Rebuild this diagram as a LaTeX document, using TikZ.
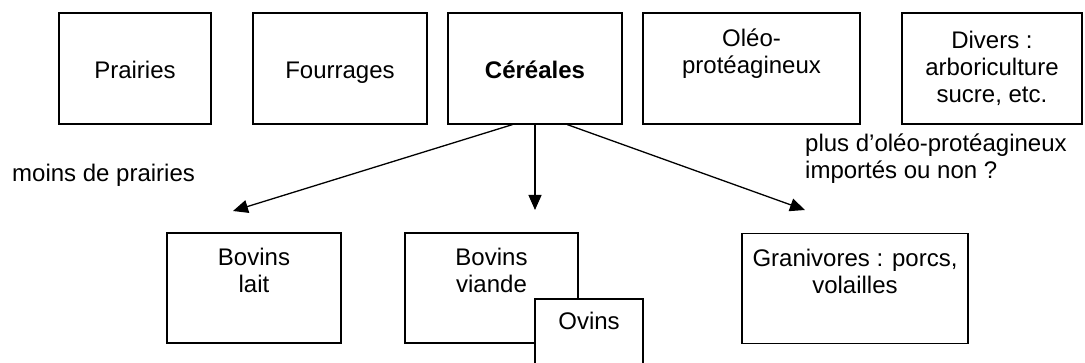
\documentclass[tikz,border=0pt]{standalone}
\usepackage{fontspec}
\setmainfont{Liberation Sans}
\usetikzlibrary{arrows.meta}

\tikzset{
  cadre/.style={draw=black, fill=white, line width=1.3pt, inner sep=0pt, align=center,
    font=\fontsize{24}{27}\selectfont, minimum height=111pt},
  uneligne/.style={text height=24pt, text depth=3pt},
  fleche/.style={line width=1.3pt, -{Triangle[length=15pt,width=13pt]}},
  remarque/.style={font=\fontsize{24}{27}\selectfont, inner sep=0pt, align=left}
}

\begin{document}
\begin{tikzpicture}[x=1pt, y=-1pt]
            \useasboundingbox (0,0) rectangle (1085,363);
            \clip (0,0) rectangle (1085,363);

            %%%%%%%%
            % cultures
            %%%%%%%%

            \node[cadre, uneligne, minimum width=152pt] (prairies) at (135, 68.5) {Prairies};
            \node[cadre, uneligne, minimum width=174pt] (fourrages) at (340, 68.5) {Fourrages};
            \node[cadre, uneligne, minimum width=174pt] (cereales) at (535, 68.5) {\textbf{Céréales}};
            \node[cadre, minimum width=217pt] (oleo) at (751.5, 68.5) {Oléo-\\protéagineux\\\strut};
            \node[cadre, minimum width=180pt] (divers) at (992, 68.5) {Divers :\\arboriculture\\sucre, etc.};

            %%%%%%%%
            % elevages
            %%%%%%%%

            \node[cadre, minimum width=174pt, minimum height=110pt] (lait) at (254, 288) {Bovins\\lait\\\strut};
            \node[cadre, minimum width=173pt, minimum height=110pt] (viande) at (491.5, 288) {Bovins\\viande\\\strut};
            \node[cadre, minimum width=108pt, minimum height=106pt] (ovins) at (589, 352) {Ovins\\\strut\\\strut};
            \node[cadre, minimum width=226pt, minimum height=110pt] (granivores) at (855, 288.5) {Granivores : porcs,\\volailles\\\strut};

            %%%%%%%%
            % fleches
            %%%%%%%%

            % bouts libres
            \coordinate (versLait) at (233, 211);
            \coordinate (versViande) at (535, 210);
            \coordinate (versGranivores) at (805, 210);

            \draw[fleche] (cereales.248) -- (versLait);
            \draw[fleche] (cereales.south) -- (versViande);
            \draw[fleche] (cereales.300) -- (versGranivores);

            % remarques
            \node[remarque, anchor=west] (moins) at (12, 175) {moins de prairies};
            \node[remarque, anchor=west] (plus) at (805, 159) {plus d’oléo-protéagineux\\importés ou non ?};
\end{tikzpicture}
\end{document}
